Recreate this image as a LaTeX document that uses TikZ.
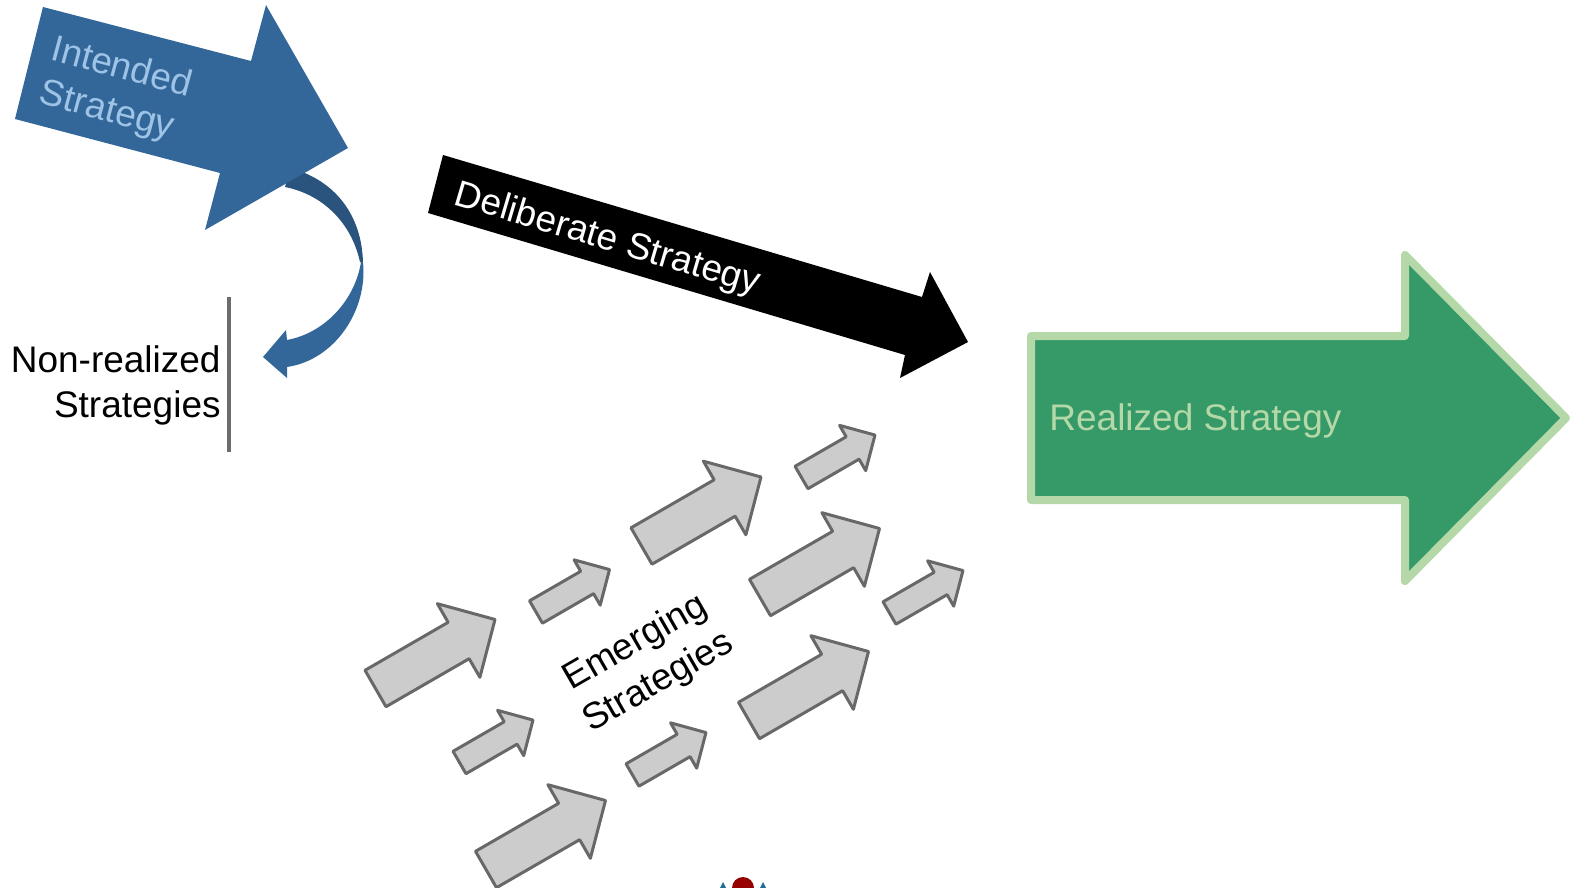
\documentclass[tikz,border=0pt]{standalone}
\usepackage{fontspec}
\setmainfont{Liberation Sans}

\definecolor{intblue}{RGB}{52,103,153}
\definecolor{intback}{RGB}{42,84,126}
\definecolor{inttext}{RGB}{157,195,230}
\definecolor{realfill}{RGB}{54,154,104}
\definecolor{realedge}{RGB}{181,216,168}
\definecolor{emfill}{RGB}{204,204,204}
\definecolor{emedge}{RGB}{104,104,104}
\definecolor{barcol}{RGB}{108,108,108}
\definecolor{logored}{RGB}{150,0,0}
\definecolor{logoblue}{RGB}{30,110,150}

\tikzset{
	label/.style={inner sep=0pt,font=\fontsize{18.5}{22.5}\selectfont},
	emarrow/.style={fill=emfill,draw=emedge,line width=1.5pt,line join=round}
}

\begin{document}
\begin{tikzpicture}[x=0.5pt,y=-0.5pt]

	\useasboundingbox (0,0) rectangle (1571,888); % same frame as the slide

	% curved arrow, drawn first so it slips under the intended one
	\fill[intback] (290,168) .. controls (335,180) and (362,215) .. (363,263)
	-- (360,262) .. controls (352,225) and (325,195) .. (285,187) -- cycle;
	\fill[intblue] (363,262) .. controls (368,310) and (335,360) .. (287,367)
	-- (287,378) -- (263,357) -- (286,330) -- (287,340)
	.. controls (325,333) and (355,300) .. (361,262) -- cycle;

	% intended strategy
	\fill[intblue] (43,7) -- (251,61) -- (266,5) -- (348,148) -- (205,230) -- (220,173) -- (15,119) -- cycle;
	\node[label,text=inttext,align=left,anchor=north west,rotate=-15] (intended) at (56,33)
	{Intended\\Strategy};

	% non-realized
	\draw[barcol,line width=2pt] (229,297) -- (229,452);
	\node[label,align=right,anchor=east] (nonreal) at (221,385) {Non-realized\\Strategies};

	% deliberate strategy
	\fill[black] (443,155) -- (922,297) -- (930,272) -- (968,342) -- (900,378) -- (905,355) -- (428,213) -- cycle;
	\node[label,text=white,anchor=west,rotate=-16.5] (deliberate) at (455,195) {Deliberate Strategy};

	% realized strategy
	\draw[realedge,fill=realfill,line width=4pt,line join=round]
	(1031,336) -- (1405,336) -- (1405,255) -- (1566,418) -- (1405,581) -- (1405,500) -- (1031,500) -- cycle;
	\node[label,text=realedge,anchor=west] (realized) at (1049,421) {Realized Strategy};

	% emerging strategies: tail centre / size of each small arrow
	\foreach \tx/\ty/\s in {375.5/688.5/1, 486/869.5/1, 641.5/546/1, 760/597.5/1, 749/720.5/1,
		459.5/762.5/0.615, 536/612/0.615, 632.5/775/0.615, 801.5/477.5/0.615, 889.5/613/0.615}{%
		\begin{scope}[shift={(\tx,\ty)},rotate=30,scale=\s]
			\draw[emarrow] (0,-21) -- (96,-21) -- (96,-42.5) -- (138,0) -- (96,42.5) -- (96,21) -- (0,21) -- cycle;
		\end{scope}
	}
	\node[label,align=center,rotate=30] (emerging) at (647,663) {Emerging\\[0.5pt]Strategies};

	% bit of a logo cut by the lower edge
	\fill[logored] (743,888) circle [radius=5.5pt];
	\fill[logoblue] (720,888) -- (723,882) -- (726,888) -- cycle;
	\fill[logoblue] (760,888) -- (763,882) -- (766,888) -- cycle;

\end{tikzpicture}
\end{document}
